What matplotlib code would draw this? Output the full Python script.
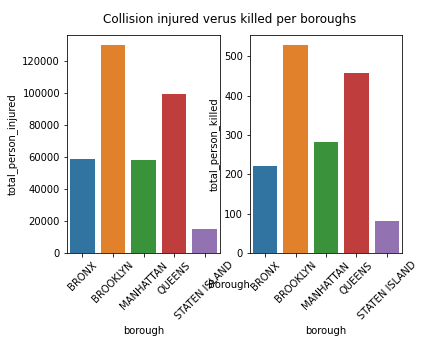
import matplotlib
matplotlib.use("Agg")
import matplotlib.pyplot as plt

boroughs = ["BRONX", "BROOKLYN", "MANHATTAN", "QUEENS", "STATEN ISLAND"]
injured = [59100, 130000, 58400, 99800, 15200]
killed = [222, 528, 283, 458, 82]
colors = ["#3274a1", "#e1812c", "#3a923a", "#c03d3e", "#9372b2"]

W, H = 425, 343
fig = plt.figure(figsize=(W / 72, H / 72), dpi=72)

def ax_at(x0, y0, x1, y1):
    return fig.add_axes([x0 / W, 1 - y1 / H, (x1 - x0) / W, (y1 - y0) / H])

ax1 = ax_at(67, 35, 220, 253)
ax2 = ax_at(250, 35, 402, 253)

x = range(len(boroughs))
ax1.bar(x, injured, width=0.8, color=colors)
ax2.bar(x, killed, width=0.8, color=colors)

for ax, lab in [(ax1, "total_person_injured"), (ax2, "total_person_killed")]:
    ax.set_xticks(list(x))
    ax.set_xticklabels(boroughs, rotation=45)
    ax.set_xlim(-0.5, len(boroughs) - 0.5)
    ax.set_xlabel("borough")
    ax.set_ylabel(lab)

fig.suptitle("Collision injured verus killed per boroughs",
             x=229.5 / W, y=1 - 13 / H, fontsize=12)
fig.text(229 / W, 1 - 285 / H, "Borough", ha="center", va="center", fontsize=10)

fig.savefig("out.png", dpi=72)
